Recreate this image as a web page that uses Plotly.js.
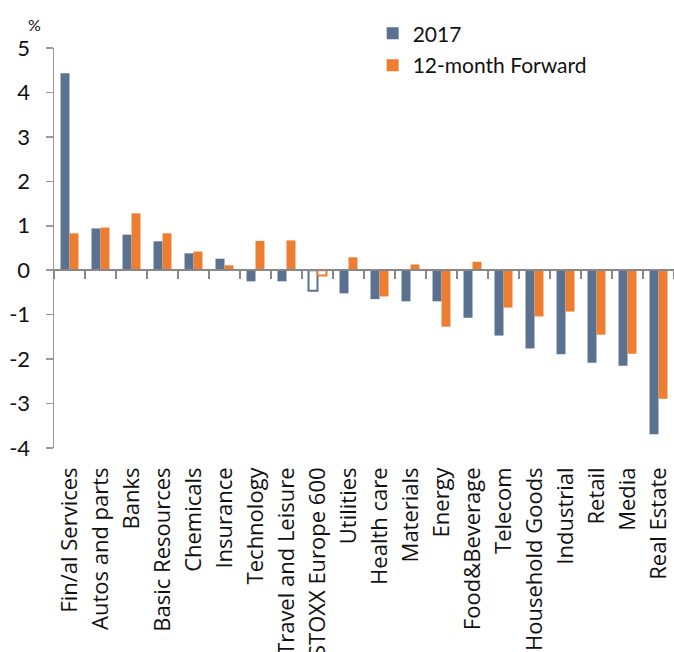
<!DOCTYPE html>
<html>
<head>
<meta charset="utf-8">
<script src="https://cdn.plot.ly/plotly-3.0.1.min.js"></script>
<style>html,body{margin:0;padding:0;background:#fff;}#chart{width:674px;height:652px;}</style>
</head>
<body>
<div id="chart"></div>
<script>
const categories = ["Fin/al Services","Autos and parts","Banks","Basic Resources","Chemicals","Insurance","Technology","Travel and Leisure","STOXX Europe 600","Utilities","Health care","Materials","Energy","Food&Beverage","Telecom","Household Goods","Industrial","Retail","Media","Real Estate"];
const values2017 = [4.43,0.94,0.80,0.65,0.38,0.26,-0.25,-0.25,-0.46,-0.52,-0.65,-0.70,-0.70,-1.07,-1.47,-1.76,-1.89,-2.08,-2.15,-3.69];
const valuesForward = [0.83,0.96,1.28,0.83,0.42,0.11,0.66,0.67,-0.12,0.29,-0.59,0.13,-1.27,0.19,-0.84,-1.04,-0.93,-1.45,-1.88,-2.89];
const seriesNames = ["2017","12-month Forward"];
const benchmark = "STOXX Europe 600";
const yTickValues = [-4,-3,-2,-1,0,1,2,3,4,5];
const yTickLabels = ["-4","-3","-2","-1","0","1","2","3","4","5"];

const BLUE = "#5B7191", ORANGE = "#ED7D31";
const isBench = categories.map(c => c === benchmark);

const traces = [
  {type:"bar", name:seriesNames[0], x:categories, y:values2017, legendgroup:"a",
   marker:{color:isBench.map(b=>b?"#ffffff":BLUE), line:{color:BLUE, width:isBench.map(b=>b?2:0)}}},
  {type:"bar", name:seriesNames[1], x:categories, y:valuesForward, legendgroup:"b",
   marker:{color:isBench.map(b=>b?"#ffffff":ORANGE), line:{color:ORANGE, width:isBench.map(b=>b?2:0)}}},
  {type:"scatter", mode:"none", x:categories, y:categories.map(()=>0), xaxis:"x2", showlegend:false, hoverinfo:"skip"}
];

const layout = {
  width:674, height:652,
  margin:{l:54, r:0, t:48, b:203.5},
  paper_bgcolor:"#fff", plot_bgcolor:"#fff",
  barmode:"group", bargap:0.42, bargroupgap:0,
  showlegend:true,
  legend:{x:0.514, y:1.087, xanchor:"left", yanchor:"top", font:{family:"Lato, sans-serif", size:21, color:"#111"},
          traceorder:"grouped", tracegroupgap:1.5, bgcolor:"rgba(0,0,0,0)"},
  xaxis:{type:"category", range:[-0.5,19.5], showline:false, ticks:"", tickangle:-90,
         tickfont:{family:"Open Sans, sans-serif", size:22, color:"#111"}, ticklabelstandoff:14, showgrid:false, zeroline:false},
  xaxis2:{type:"category", overlaying:"x", anchor:"free", position:4/9, range:[-0.5,19.5], matches:"x",
          showline:true, linecolor:"#888", linewidth:2, ticks:"outside", tickson:"boundaries", ticklen:8, tickwidth:2, tickcolor:"#888",
          showticklabels:false, showgrid:false, zeroline:false},
  yaxis:{range:[-4,5], tickmode:"array", tickvals:yTickValues, ticktext:yTickLabels, showline:true, linecolor:"#999", linewidth:1.5, ticks:"outside", ticklen:7, tickwidth:1.5, tickcolor:"#999",
         ticklabelstandoff:11, showgrid:false, zeroline:false, tickfont:{family:"Lato, sans-serif", size:22, color:"#111"}},
  annotations:[{text:"%", xref:"paper", yref:"paper", x:-0.031, y:1.058, xanchor:"center", yanchor:"middle", showarrow:false,
                font:{family:"Lato, sans-serif", size:16, color:"#111"}}]
};

Plotly.newPlot("chart", traces, layout, {displayModeBar:false, staticPlot:true});
</script>
</body>
</html>
